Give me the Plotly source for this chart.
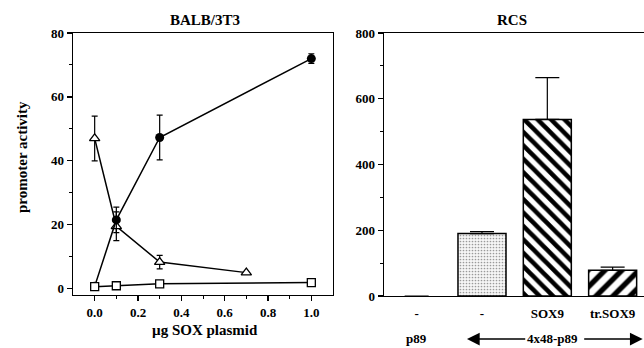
import plotly.graph_objects as go

W, H = 644, 348

# ---------------- Data ----------------
# Left panel (BALB/3T3): promoter activity vs µg SOX plasmid
sox9_x = [0.0, 0.1, 0.3, 1.0]
sox9_y = [0.7, 21.5, 47.3, 72.0]
sox9_err = [0.0, 4.0, 7.0, 1.5]

tri_x = [0.0, 0.1, 0.3, 0.7]
tri_y = [47.0, 19.5, 8.3, 5.0]
tri_err = [7.0, 4.5, 2.1, 0.0]

sq_x = [0.0, 0.1, 0.3, 1.0]
sq_y = [0.6, 0.9, 1.5, 1.9]

left_xticks = [0.0, 0.2, 0.4, 0.6, 0.8, 1.0]
left_xticklabels = ["0.0", "0.2", "0.4", "0.6", "0.8", "1.0"]
left_yticks = [0, 20, 40, 60, 80]

# Right panel (RCS): bars
rcs_pos = [0, 1, 2, 3]
rcs_labels = ["-", "-", "SOX9", "tr.SOX9"]
rcs_vals = [0, 190, 537, 78]
rcs_err = [0, 6, 127, 10]
right_yticks = [0, 200, 400, 600, 800]

FONT = "Liberation Serif"
BLACK = "black"

def px_x(p):
    return p / W

def px_y(p):
    return 1 - p / H

fig = go.Figure()

# Triangles (open)
fig.add_trace(go.Scatter(
    x=tri_x, y=tri_y, mode="lines+markers",
    line=dict(color=BLACK, width=1.5),
    marker=dict(symbol="triangle-up", size=9, color="white",
                line=dict(color=BLACK, width=1.3)),
    error_y=dict(type="data", array=tri_err, color=BLACK, thickness=1.2, width=3),
    xaxis="x", yaxis="y", showlegend=False, cliponaxis=False,
))
# Filled circles
fig.add_trace(go.Scatter(
    x=sox9_x, y=sox9_y, mode="lines+markers",
    line=dict(color=BLACK, width=1.5),
    marker=dict(symbol="circle", size=9, color=BLACK),
    error_y=dict(type="data", array=sox9_err, color=BLACK, thickness=1.2, width=3),
    xaxis="x", yaxis="y", showlegend=False, cliponaxis=False,
))
# Open squares
fig.add_trace(go.Scatter(
    x=sq_x, y=sq_y, mode="lines+markers",
    line=dict(color=BLACK, width=1.5),
    marker=dict(symbol="square", size=8, color="white",
                line=dict(color=BLACK, width=1.3)),
    xaxis="x", yaxis="y", showlegend=False, cliponaxis=False,
))

# Bars
fig.add_trace(go.Bar(
    x=rcs_pos, y=rcs_vals, width=0.735,
    marker=dict(
        color="white",
        line=dict(color=BLACK, width=[0, 1.5, 1.5, 1.5]),
        pattern=dict(
            shape=["", ".", "\\", "/"],
            fgcolor=["black", "#9a9a9a", "black", "black"],
            bgcolor=["white", "#f6f6f6", "white", "white"],
            size=[8, 3, 9.5, 12],
            solidity=[0.3, 0.25, 0.48, 0.45],
            fillmode="replace",
        ),
    ),
    error_y=dict(type="data", symmetric=False, array=rcs_err,
                 arrayminus=[0, 0, 0, 0], color=BLACK, thickness=1.2, width=12),
    xaxis="x2", yaxis="y2", showlegend=False,
))

tickfont = dict(family=FONT, size=13, color=BLACK, weight="bold")

fig.update_layout(
    width=W, height=H,
    margin=dict(l=0, r=0, t=0, b=0, autoexpand=False),
    paper_bgcolor="white", plot_bgcolor="white",
    font=dict(family=FONT, color=BLACK),
    hovermode=False,
    xaxis=dict(
        domain=[px_x(73), px_x(333)], range=[-0.1, 1.1],
        tickvals=left_xticks, ticktext=left_xticklabels,
        ticks="outside", ticklen=5, tickwidth=1.2, tickcolor=BLACK,
        minor=dict(tickvals=[0.1, 0.3, 0.5, 0.7, 0.9], ticks="outside", ticklen=3,
                   tickcolor=BLACK, tickwidth=1),
        showline=True, linecolor=BLACK, linewidth=1.3, mirror=True,
        showgrid=False, zeroline=False, tickfont=tickfont,
        anchor="y", automargin=False, ticklabelstandoff=0,
    ),
    yaxis=dict(
        domain=[px_y(295), px_y(33)], range=[-2, 80],
        tickvals=left_yticks,
        ticks="outside", ticklen=5, tickwidth=1.2, tickcolor=BLACK,
        minor=dict(tickvals=[10, 30, 50, 70], ticks="outside", ticklen=3,
                   tickcolor=BLACK, tickwidth=1),
        showline=True, linecolor=BLACK, linewidth=1.3, mirror=True,
        showgrid=False, zeroline=False, tickfont=tickfont,
        anchor="x", automargin=False,
    ),
    xaxis2=dict(
        domain=[px_x(384), 1.0], range=[-0.5, 3.48],
        tickvals=rcs_pos, ticktext=rcs_labels, ticks="",
        ticklabelstandoff=5,
        showline=True, linecolor=BLACK, linewidth=1.3, mirror=True,
        showgrid=False, zeroline=False, tickfont=tickfont,
        anchor="y2", automargin=False,
    ),
    yaxis2=dict(
        domain=[px_y(296), px_y(33)], range=[0, 800],
        tickvals=right_yticks,
        ticks="outside", ticklen=5, tickwidth=1.2, tickcolor=BLACK,
        minor=dict(tickvals=[100, 300, 500, 700], ticks="outside", ticklen=3,
                   tickcolor=BLACK, tickwidth=1),
        showline=True, linecolor=BLACK, linewidth=1.3,
        showgrid=False, zeroline=False, tickfont=tickfont,
        anchor="x2", automargin=False,
    ),
    bargap=0,
)

title_font = dict(family=FONT, size=15, color=BLACK, weight="bold")
C = dict(xanchor="center", yanchor="middle", showarrow=False)

annotations = [
    dict(text="BALB/3T3", x=px_x(205), y=px_y(20), xref="paper", yref="paper",
         font=title_font, **C),
    dict(text="RCS", x=px_x(512), y=px_y(20), xref="paper", yref="paper",
         font=title_font, **C),
    dict(text="promoter activity", x=px_x(22), y=px_y(157), xref="paper", yref="paper",
         textangle=-90, font=title_font, **C),
    dict(text="µg SOX plasmid", x=px_x(205), y=px_y(330), xref="paper", yref="paper",
         font=title_font, **C),
    dict(text="p89", x=0, y=px_y(338), xref="x2", yref="paper",
         font=tickfont, **C),
    # arrow tips
    dict(text="", x=0.77, y=px_y(339), xref="x2", yref="paper",
         ax=60, ay=0, axref="pixel", ayref="pixel",
         showarrow=True, arrowhead=2, arrowsize=1.7, arrowwidth=1.5, arrowcolor=BLACK),
    dict(text="", x=3.46, y=px_y(339), xref="x2", yref="paper",
         ax=-60, ay=0, axref="pixel", ayref="pixel",
         showarrow=True, arrowhead=2, arrowsize=1.7, arrowwidth=1.5, arrowcolor=BLACK),
    dict(text="4x48-p89", x=2.08, y=px_y(338), xref="x2", yref="paper",
         font=tickfont, bgcolor="white", xanchor="center", yanchor="middle",
         showarrow=False),
]
fig.update_layout(annotations=annotations)

fig.write_html("out.html", config={"displayModeBar": False, "staticPlot": True},
               post_script="document.body.style.margin='0';document.body.style.overflow='hidden';")
